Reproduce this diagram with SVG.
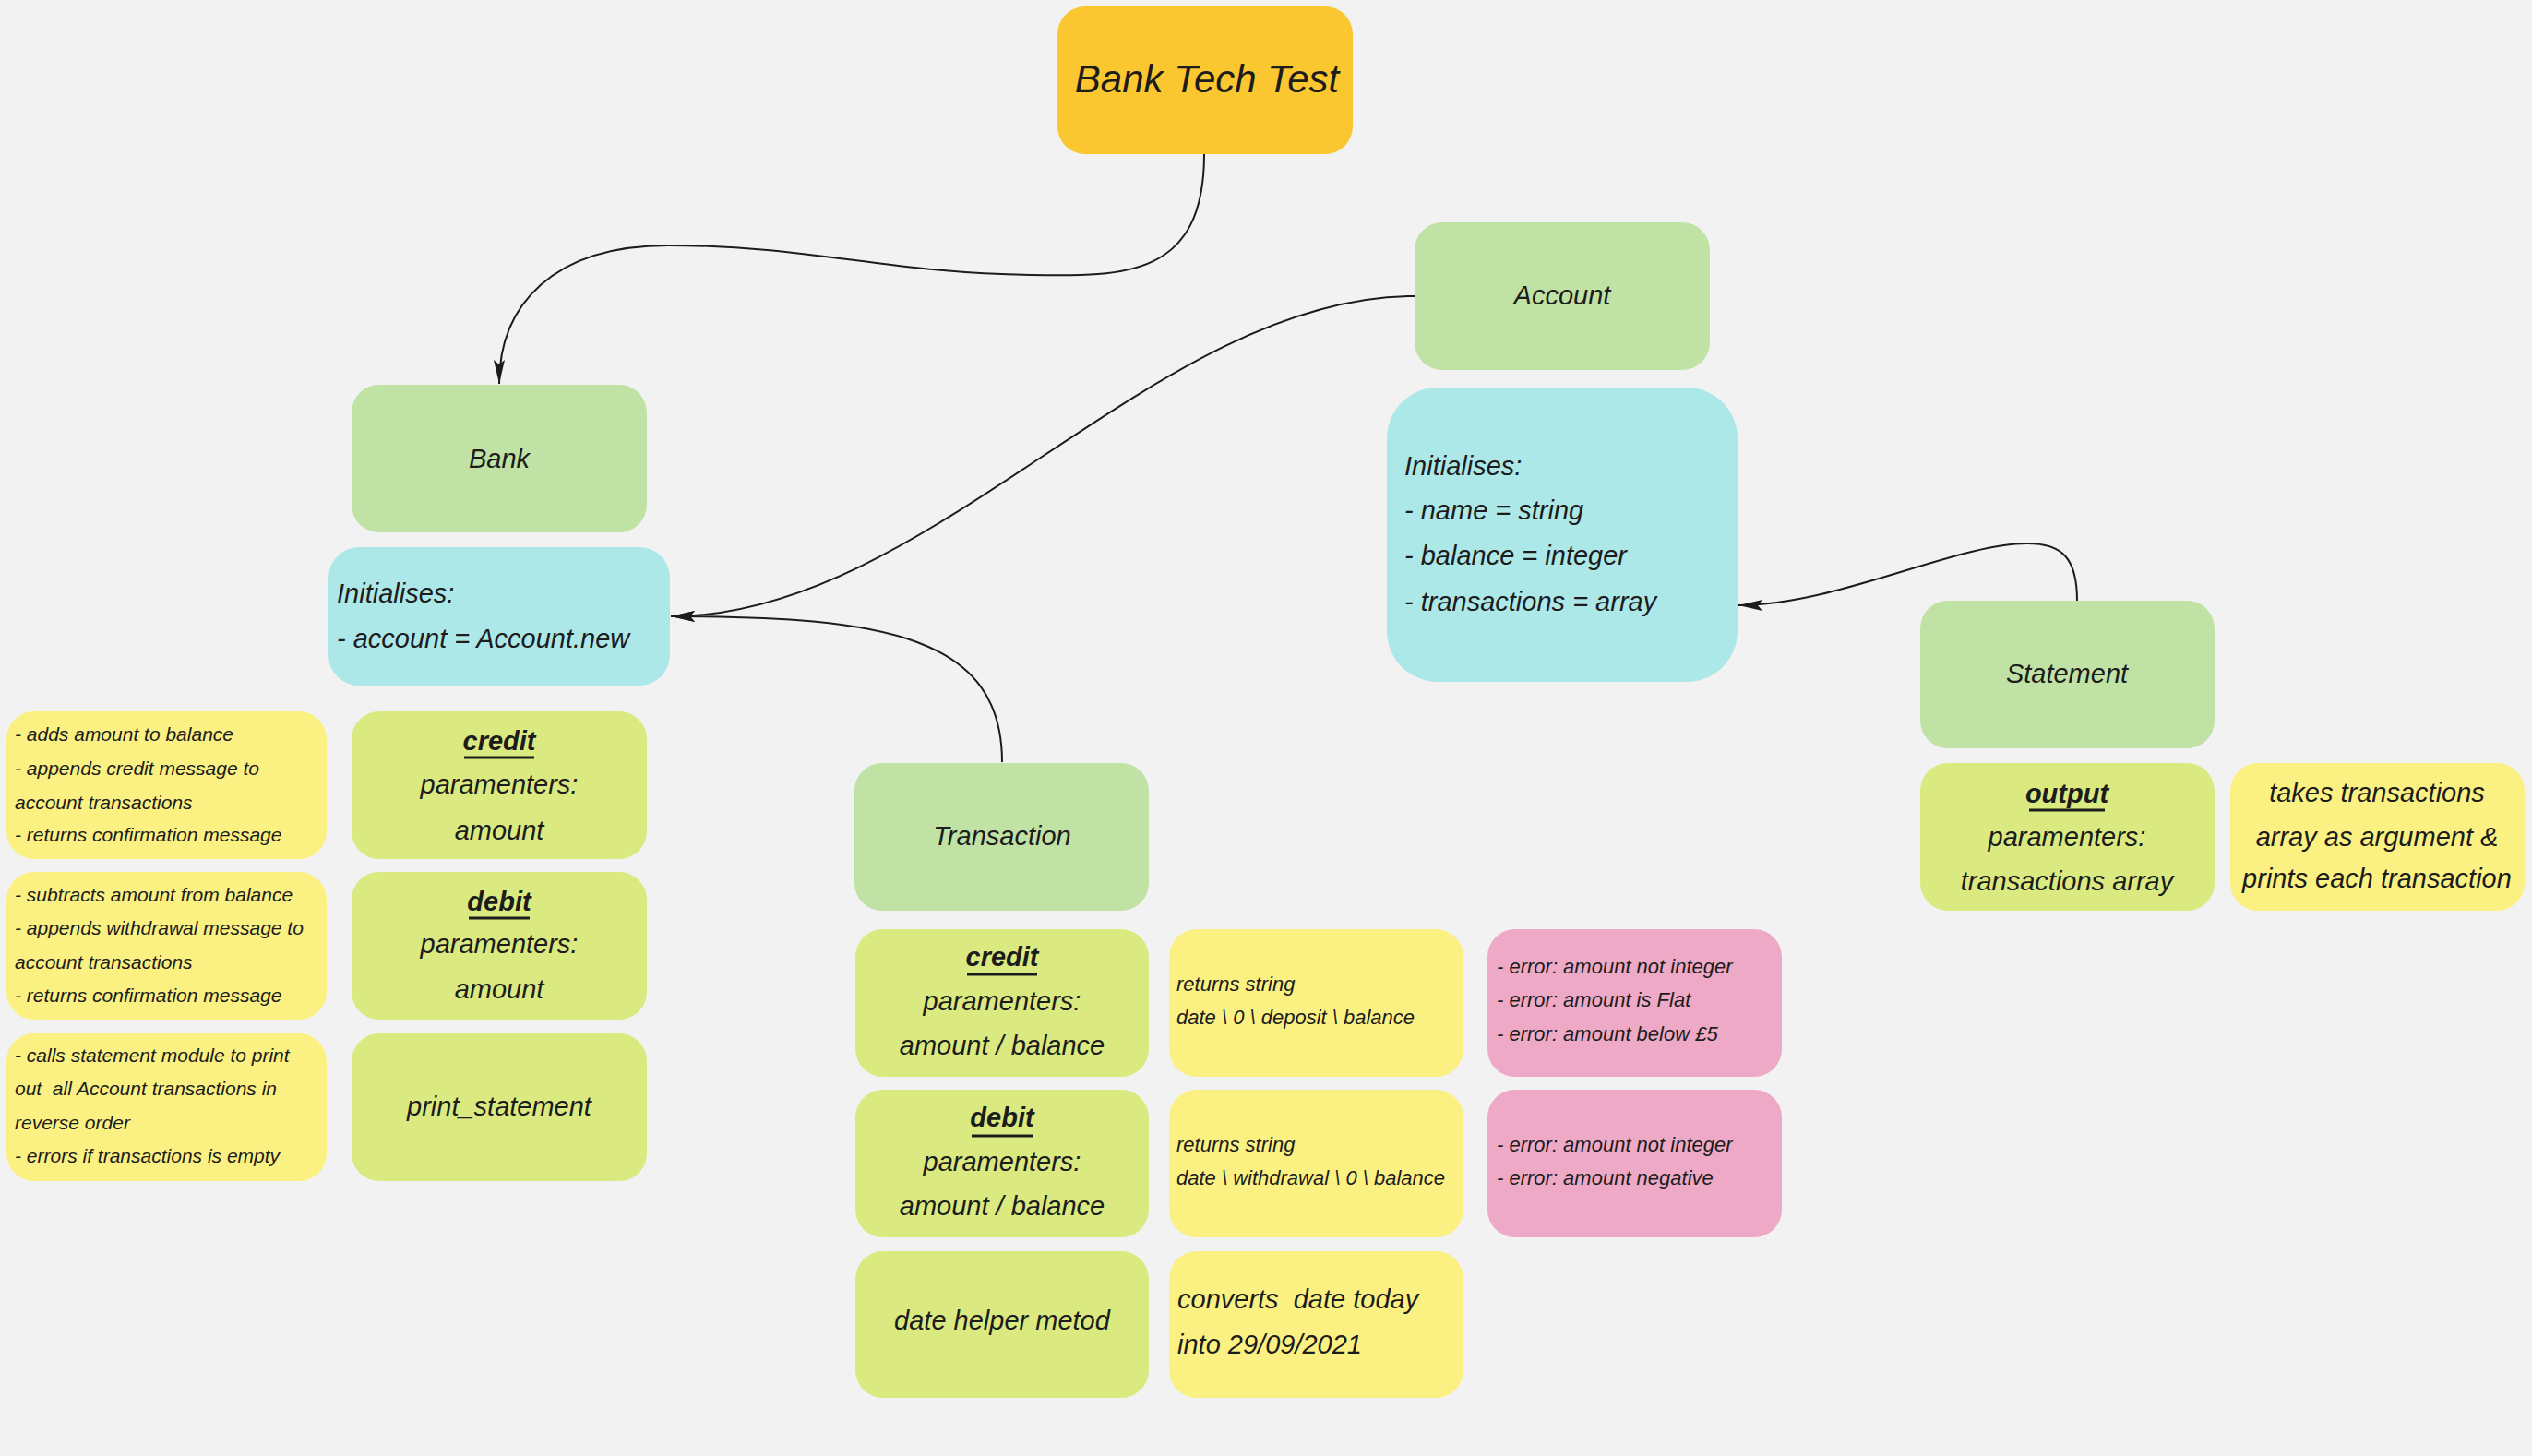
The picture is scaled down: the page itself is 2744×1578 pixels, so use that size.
<svg xmlns="http://www.w3.org/2000/svg" width="2744" height="1578" viewBox="0 0 2744 1578">
<style>
.t{font-family:"Liberation Sans",Arial,sans-serif;font-style:italic;fill:#1c1c1c}
.lg{font-size:29px}
.md{font-size:22px}
.sm{font-size:21px}
.ti{font-size:42px}
.b{font-weight:bold}
.c{text-anchor:middle}
.ul{stroke:#1c1c1c;stroke-width:3}
.orange{fill:#FAC730}
.green{fill:#C1E2A5}
.lime{fill:#DAEA80}
.yellow{fill:#FBF182}
.pink{fill:#EDA9C5}
.cyan{fill:#ADE8E9}
.conn{fill:none;stroke:#1c1c1c;stroke-width:2;marker-end:url(#arrow)}
</style>
<defs>
<marker id="arrow" markerUnits="userSpaceOnUse" markerWidth="27" markerHeight="14" refX="26" refY="7" orient="auto">
<path d="M0,1 L26,7 L0,13 L5,7 Z" fill="#1c1c1c"/>
</marker>
</defs>
<rect x="0" y="0" width="2744" height="1578" fill="#F2F2F2"/>

<g id="connectors">
<path class="conn" d="M1305,167 C1305,300 1220,300 1117,298 C960,296 880,266 724,266 C600,266 541,330 541,416"/>
<path class="conn" d="M1533,321 C1250,321 1010,668 727,668"/>
<path class="conn" d="M1086,826 C1086,690 960,668 727,668"/>
<path class="conn" d="M2251,651 C2251,605 2235,589 2197,589 C2120,589 1990,656 1884,656"/>
</g>

<g id="title">
<rect class="orange" x="1146" y="7" width="320" height="160" rx="30"/>
<text class="t ti c" x="1308" y="100">Bank Tech Test</text>
</g>

<g id="account">
<rect class="green" x="1533" y="241" width="320" height="160" rx="30"/>
<text class="t lg c" x="1693" y="330">Account</text>
</g>

<g id="account-init">
<rect class="cyan" x="1503" y="420" width="380" height="319" rx="55"/>
<text class="t lg" x="1522" y="515">Initialises:</text>
<text class="t lg" x="1522" y="563">- name = string</text>
<text class="t lg" x="1522" y="612">- balance = integer</text>
<text class="t lg" x="1522" y="662">- transactions = array</text>
</g>

<g id="bank">
<rect class="green" x="381" y="417" width="320" height="160" rx="30"/>
<text class="t lg c" x="541" y="507">Bank</text>
</g>

<g id="bank-init">
<rect class="cyan" x="356" y="593" width="370" height="150" rx="33"/>
<text class="t lg" x="365" y="653">Initialises:</text>
<text class="t lg" x="365" y="702">- account = Account.new</text>
</g>

<g id="bank-credit-note">
<rect class="yellow" x="7" y="771" width="347" height="160" rx="30"/>
<text class="t sm" x="16" y="803">- adds amount to balance</text>
<text class="t sm" x="16" y="840">- appends credit message to</text>
<text class="t sm" x="16" y="877">account transactions</text>
<text class="t sm" x="16" y="912">- returns confirmation message</text>
</g>

<g id="bank-credit">
<rect class="lime" x="381" y="771" width="320" height="160" rx="30"/>
<text class="t lg b c" x="541" y="813">credit</text>
<line class="ul" x1="503" y1="821" x2="579" y2="821"/>
<text class="t lg c" x="541" y="860">paramenters:</text>
<text class="t lg c" x="541" y="910">amount</text>
</g>

<g id="bank-debit-note">
<rect class="yellow" x="7" y="945" width="347" height="160" rx="30"/>
<text class="t sm" x="16" y="977">- subtracts amount from balance</text>
<text class="t sm" x="16" y="1013">- appends withdrawal message to</text>
<text class="t sm" x="16" y="1050">account transactions</text>
<text class="t sm" x="16" y="1086">- returns confirmation message</text>
</g>

<g id="bank-debit">
<rect class="lime" x="381" y="945" width="320" height="160" rx="30"/>
<text class="t lg b c" x="541" y="987">debit</text>
<line class="ul" x1="508" y1="995" x2="574" y2="995"/>
<text class="t lg c" x="541" y="1033">paramenters:</text>
<text class="t lg c" x="541" y="1082">amount</text>
</g>

<g id="bank-print-note">
<rect class="yellow" x="7" y="1120" width="347" height="160" rx="30"/>
<text class="t sm" x="16" y="1151">- calls statement module to print</text>
<text class="t sm" x="16" y="1187" xml:space="preserve">out  all Account transactions in</text>
<text class="t sm" x="16" y="1224">reverse order</text>
<text class="t sm" x="16" y="1260">- errors if transactions is empty</text>
</g>

<g id="bank-print">
<rect class="lime" x="381" y="1120" width="320" height="160" rx="30"/>
<text class="t lg c" x="541" y="1209">print_statement</text>
</g>

<g id="transaction">
<rect class="green" x="926" y="827" width="319" height="160" rx="30"/>
<text class="t lg c" x="1086" y="916">Transaction</text>
</g>

<g id="transaction-credit">
<rect class="lime" x="927" y="1007" width="318" height="160" rx="30"/>
<text class="t lg b c" x="1086" y="1047">credit</text>
<line class="ul" x1="1048" y1="1056" x2="1124" y2="1056"/>
<text class="t lg c" x="1086" y="1095">paramenters:</text>
<text class="t lg c" x="1086" y="1143">amount / balance</text>
</g>

<g id="transaction-credit-returns">
<rect class="yellow" x="1267" y="1007" width="319" height="160" rx="30"/>
<text class="t md" x="1275" y="1074">returns string</text>
<text class="t md" x="1275" y="1110">date \ 0 \ deposit \ balance</text>
</g>

<g id="transaction-credit-errors">
<rect class="pink" x="1612" y="1007" width="319" height="160" rx="30"/>
<text class="t md" x="1622" y="1055">- error: amount not integer</text>
<text class="t md" x="1622" y="1091">- error: amount is Flat</text>
<text class="t md" x="1622" y="1128">- error: amount below £5</text>
</g>

<g id="transaction-debit">
<rect class="lime" x="927" y="1181" width="318" height="160" rx="30"/>
<text class="t lg b c" x="1086" y="1221">debit</text>
<line class="ul" x1="1053" y1="1231" x2="1119" y2="1231"/>
<text class="t lg c" x="1086" y="1269">paramenters:</text>
<text class="t lg c" x="1086" y="1317">amount / balance</text>
</g>

<g id="transaction-debit-returns">
<rect class="yellow" x="1267" y="1181" width="319" height="160" rx="30"/>
<text class="t md" x="1275" y="1248">returns string</text>
<text class="t md" x="1275" y="1284">date \ withdrawal \ 0 \ balance</text>
</g>

<g id="transaction-debit-errors">
<rect class="pink" x="1612" y="1181" width="319" height="160" rx="30"/>
<text class="t md" x="1622" y="1248">- error: amount not integer</text>
<text class="t md" x="1622" y="1284">- error: amount negative</text>
</g>

<g id="transaction-date">
<rect class="lime" x="927" y="1356" width="318" height="159" rx="30"/>
<text class="t lg c" x="1086" y="1441">date helper metod</text>
</g>

<g id="transaction-date-note">
<rect class="yellow" x="1267" y="1356" width="319" height="159" rx="30"/>
<text class="t lg" x="1276" y="1418" xml:space="preserve">converts  date today</text>
<text class="t lg" x="1276" y="1467">into 29/09/2021</text>
</g>

<g id="statement">
<rect class="green" x="2081" y="651" width="319" height="160" rx="30"/>
<text class="t lg c" x="2240" y="740">Statement</text>
</g>

<g id="statement-output">
<rect class="lime" x="2081" y="827" width="319" height="160" rx="30"/>
<text class="t lg b c" x="2240" y="870">output</text>
<line class="ul" x1="2199" y1="878" x2="2281" y2="878"/>
<text class="t lg c" x="2240" y="917">paramenters:</text>
<text class="t lg c" x="2240" y="965">transactions array</text>
</g>

<g id="statement-note">
<rect class="yellow" x="2417" y="827" width="319" height="160" rx="30"/>
<text class="t lg c" x="2576" y="869">takes transactions</text>
<text class="t lg c" x="2576" y="917">array as argument &amp;</text>
<text class="t lg c" x="2576" y="962">prints each transaction</text>
</g>
</svg>
